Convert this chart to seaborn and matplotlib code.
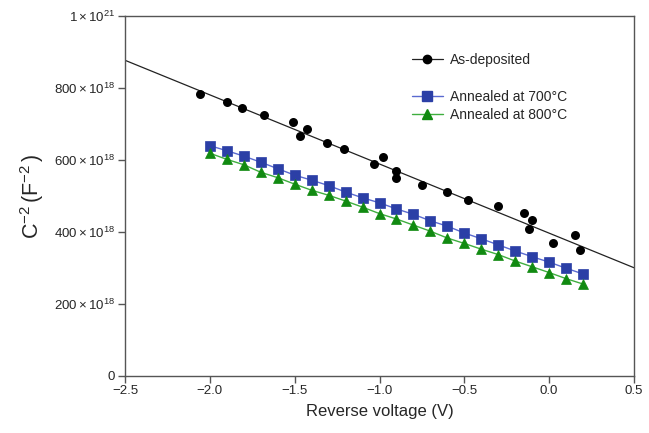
import numpy as np
import pandas as pd
import matplotlib
matplotlib.use("Agg")
import matplotlib.pyplot as plt
from matplotlib.lines import Line2D
from matplotlib.ticker import FuncFormatter, MultipleLocator
import seaborn as sns

# As-deposited film: reverse voltage (V) and C^-2 (units of 1e18 F^-2)
asdep_v = [-2.06, -1.90, -1.81, -1.68, -1.51, -1.43, -1.47, -1.31, -1.21, -1.03,
           -0.98, -0.90, -0.90, -0.75, -0.60, -0.48, -0.30, -0.15, -0.10, -0.12,
           0.02, 0.15, 0.18]
asdep_c = [784, 762, 744, 725, 707, 686, 668, 647, 630, 588,
           609, 570, 549, 530, 511, 490, 473, 452, 432, 409,
           370, 392, 350]

# Linear fit of the as-deposited data (units of 1e18 F^-2)
fit_slope = -192.4
fit_intercept = 396.6

# Annealed films, swept from -2.0 V to 0.2 V
anneal_v = [-2.0, -1.9, -1.8, -1.7, -1.6, -1.5, -1.4, -1.3, -1.2, -1.1, -1.0, -0.9,
            -0.8, -0.7, -0.6, -0.5, -0.4, -0.3, -0.2, -0.1, 0.0, 0.1, 0.2]
ann700_c = [640, 626, 611, 594, 576, 558, 544, 529, 511, 495, 481, 464,
            449, 431, 416, 397, 381, 364, 347, 331, 316, 299, 283]
ann800_c = [619, 602, 587, 566, 551, 533, 516, 502, 486, 469, 451, 436,
            419, 402, 383, 368, 352, 337, 319, 303, 287, 270, 255]

y_ticks = [0, 200e18, 400e18, 600e18, 800e18, 1e21]

sns.set_style("white")
plt.rcParams["font.family"] = ["Liberation Sans", "DejaVu Sans"]
plt.rcParams["mathtext.fontset"] = "custom"
plt.rcParams["mathtext.rm"] = "Liberation Sans"
plt.rcParams["mathtext.it"] = "Liberation Sans:italic"
plt.rcParams["mathtext.bf"] = "Liberation Sans:bold"

scale = 1e18
df_dep = pd.DataFrame({"v": asdep_v, "c": np.array(asdep_c) * scale})
df_ann = pd.DataFrame({
    "v": anneal_v * 2,
    "c": np.concatenate([ann700_c, ann800_c]) * scale,
    "sample": ["Annealed at 700°C"] * len(anneal_v) + ["Annealed at 800°C"] * len(anneal_v),
})

fig = plt.figure(figsize=(6.49, 4.33), dpi=100)
ax = fig.add_axes([0.1926, 0.1323, 0.7843, 0.8301])

ax.set_xlim(-2.5, 0.5)
ax.set_ylim(0, 1e21)

# fitted straight line across the full voltage range
xl = np.array(ax.get_xlim())
ax.plot(xl, (fit_intercept + fit_slope * xl) * scale, color="#222222", lw=0.9, zorder=2)

sns.scatterplot(data=df_dep, x="v", y="c", ax=ax, color="black", s=42,
                edgecolor="black", linewidth=0, zorder=3, legend=False)

line_cols = {"Annealed at 700°C": "#5a6ad0", "Annealed at 800°C": "#3fae3f"}
mark_cols = {"Annealed at 700°C": "#2b3fa6", "Annealed at 800°C": "#118a11"}
markers = {"Annealed at 700°C": "s", "Annealed at 800°C": "^"}
for name, grp in df_ann.groupby("sample"):
    sns.lineplot(data=grp, x="v", y="c", ax=ax, color=line_cols[name], lw=1.0,
                 marker=markers[name], markersize=7 if markers[name] == "^" else 6.5,
                 markerfacecolor=mark_cols[name], markeredgecolor=mark_cols[name],
                 markeredgewidth=0.5, zorder=4, legend=False)

ax.xaxis.set_major_locator(MultipleLocator(0.5))
ax.set_yticks(y_ticks)


def fmt_y(val, pos):
    if val == 0:
        return "0"
    if abs(val - 1e21) < 1e15:
        return r"$1\times10^{21}$"
    return r"$%d\times10^{18}$" % round(val / 1e18)


ax.yaxis.set_major_formatter(FuncFormatter(fmt_y))
ax.xaxis.set_major_formatter(FuncFormatter(lambda v, p: ("%.1f" % v).replace("-", "\u2212")))

for s in ax.spines.values():
    s.set_color("#555555")
    s.set_linewidth(1.0)
ax.tick_params(axis="both", which="major", direction="out", length=5, width=1.0,
               color="#555555", labelsize=9.5, pad=2, top=False, right=False,
               bottom=True, left=True)
ax.set_xlabel("Reverse voltage (V)", fontsize=12, labelpad=5)
ax.set_ylabel(r"$\mathregular{C^{-2}\,(F^{-2}\,)}$", fontsize=15.5, labelpad=6)

handles = [
    Line2D([], [], color="#222222", lw=0.9, marker="o", markersize=6,
           markerfacecolor="black", markeredgecolor="black"),
    Line2D([], [], color="none"),
    Line2D([], [], color=line_cols["Annealed at 700°C"], lw=1.0, marker="s", markersize=6.5,
           markerfacecolor=mark_cols["Annealed at 700°C"], markeredgecolor=mark_cols["Annealed at 700°C"]),
    Line2D([], [], color=line_cols["Annealed at 800°C"], lw=1.0, marker="^", markersize=7,
           markerfacecolor=mark_cols["Annealed at 800°C"], markeredgecolor=mark_cols["Annealed at 800°C"]),
]
labels = ["As-deposited", " ", "Annealed at 700°C", "Annealed at 800°C"]
ax.legend(handles, labels, loc="upper left", bbox_to_anchor=(0.564, 0.897),
          frameon=False, fontsize=10, borderpad=0, borderaxespad=0,
          handlelength=2.2, handletextpad=0.5, labelspacing=0.3)

fig.savefig("out.png", dpi=100)
